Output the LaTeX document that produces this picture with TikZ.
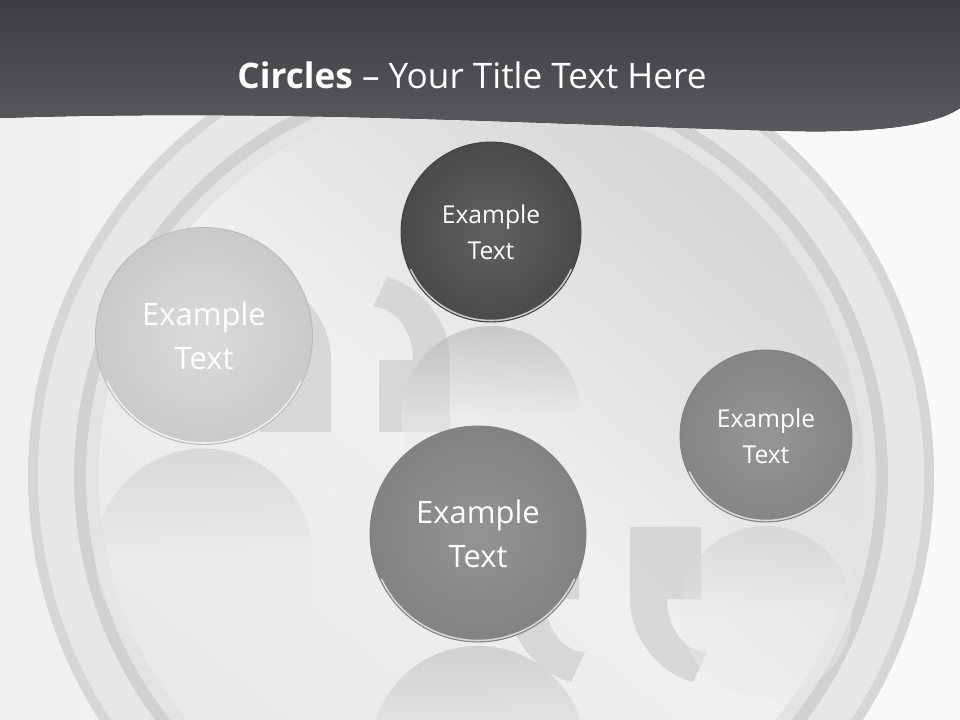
\documentclass[tikz,border=0pt]{standalone}
\usepackage{fontspec}
\setmainfont{Open Sans}
\usetikzlibrary{positioning}
\definecolor{hdrtop}{HTML}{3D3D41}
\definecolor{hdrbot}{HTML}{5A5A5E}
\definecolor{ringa}{HTML}{D6D6D6}
\definecolor{ringb}{HTML}{E7E7E7}
\definecolor{ringc}{HTML}{D1D1D1}
\definecolor{ringd}{HTML}{E3E3E3}
\definecolor{quoteg}{HTML}{D3D3D3}
\tikzset{
    mynodel/.style = {circle, inner sep=0pt, outer sep=0pt, draw=gray!55, line width=0.6pt, align=center, inner color=black!14, outer color=black!21, text=white, font=\fontsize{22}{31}\selectfont},
    mynoded/.style = {circle, inner sep=0pt, outer sep=0pt, draw=black!75, line width=0.6pt, align=center, inner color=black!62, outer color=black!71, text=white, font=\fontsize{17.5}{25.5}\selectfont},
    mynodem/.style = {circle, inner sep=0pt, outer sep=0pt, draw=black!50, line width=0.6pt, align=center, inner color=black!41, outer color=black!48, text=white, font=\fontsize{17.5}{25.5}\selectfont},
    mynodeb/.style = {circle, inner sep=0pt, outer sep=0pt, draw=black!50, line width=0.6pt, align=center, inner color=black!42, outer color=black!49, text=white, font=\fontsize{22}{31}\selectfont},
    myrefl/.style = {circle, inner sep=0pt, shading=axis, top color=#1, bottom color=black!8, middle color=black!8, fill opacity=0.45},
    myrim/.style = {white, line width=1.1pt, opacity=0.7, line cap=round},
    quote/.style = {fill=quoteg, fill opacity=0.85}
}

\begin{document}
\begin{tikzpicture}[x=0.025cm,y=-0.025cm]
\useasboundingbox (0,0) rectangle (960,720);
\fill[left color=black!6, right color=black!2] (0,0) rectangle (960,720);

% rings
\fill[ringa] (481,476) circle[radius=453];
\fill[ringb] (481,476) circle[radius=443];
\fill[ringc] (481,476) circle[radius=407];
\fill[ringd] (481,476) circle[radius=395];
\fill[shading=axis, top color=black!16, bottom color=black!9, middle color=black!6, shading angle=-40] (481,476) circle[radius=383];
\draw[ringd, line width=1pt] (481,476) circle[radius=383];

% quote marks
\fill[quote, shift={(260,360)}] (0,72) -- (71,72) -- (71,0) .. controls (71,-42) and (38,-76) .. (8,-83) -- (-6,-53) .. controls (16,-53) and (34,-29) .. (34,0) -- (0,0) -- cycle;
\fill[quote, shift={(379,360)}] (0,72) -- (71,72) -- (71,0) .. controls (71,-42) and (38,-76) .. (8,-83) -- (-6,-53) .. controls (16,-53) and (34,-29) .. (34,0) -- (0,0) -- cycle;
\fill[quote, shift={(579,599)}, rotate=180] (0,72) -- (71,72) -- (71,0) .. controls (71,-42) and (38,-76) .. (8,-83) -- (-6,-53) .. controls (16,-53) and (34,-29) .. (34,0) -- (0,0) -- cycle;
\fill[quote, shift={(701,599)}, rotate=180] (0,72) -- (71,72) -- (71,0) .. controls (71,-42) and (38,-76) .. (8,-83) -- (-6,-53) .. controls (16,-53) and (34,-29) .. (34,0) -- (0,0) -- cycle;

% reflections
\node[myrefl=black!24, minimum size=5.425cm] at (204,557) (r1) {};
\node[myrefl=black!36, minimum size=4.5cm] at (491,416) (r2) {};
\node[myrefl=black!22, minimum size=4.3cm] at (766,612) (r3) {};
\node[myrefl=black!32, minimum size=5.4cm] at (478,754) (r4) {};

%
\node[mynodel, minimum size=5.425cm] at (204,336) (c1) {Example\\Text};
\node[mynoded, minimum size=4.5cm] at (491,232) (c2) {Example\\Text};
\node[mynodem, minimum size=4.3cm] at (766,436) (c3) {Example\\Text};
\node[mynodeb, minimum size=5.4cm] at (478,534) (c4) {Example\\Text};
%
\draw[myrim] (c1) ++(155:107) arc[start angle=155, end angle=25, radius=107];
\draw[myrim] (c2) ++(155:88.5) arc[start angle=155, end angle=25, radius=88.5];
\draw[myrim] (c3) ++(155:84.5) arc[start angle=155, end angle=25, radius=84.5];
\draw[myrim] (c4) ++(155:106.5) arc[start angle=155, end angle=25, radius=106.5];

% header
\fill[top color=hdrtop, bottom color=hdrbot] (0,0) -- (960,0) -- (960,108) .. controls (935,125) and (880,133) .. (790,131) .. controls (600,127) and (300,108) .. (0,118) -- cycle;
\node[text=white, font=\fontsize{25}{30}\selectfont] at (472,75) (title) {\textbf{Circles} – Your Title Text Here};

\end{tikzpicture}
\end{document}
